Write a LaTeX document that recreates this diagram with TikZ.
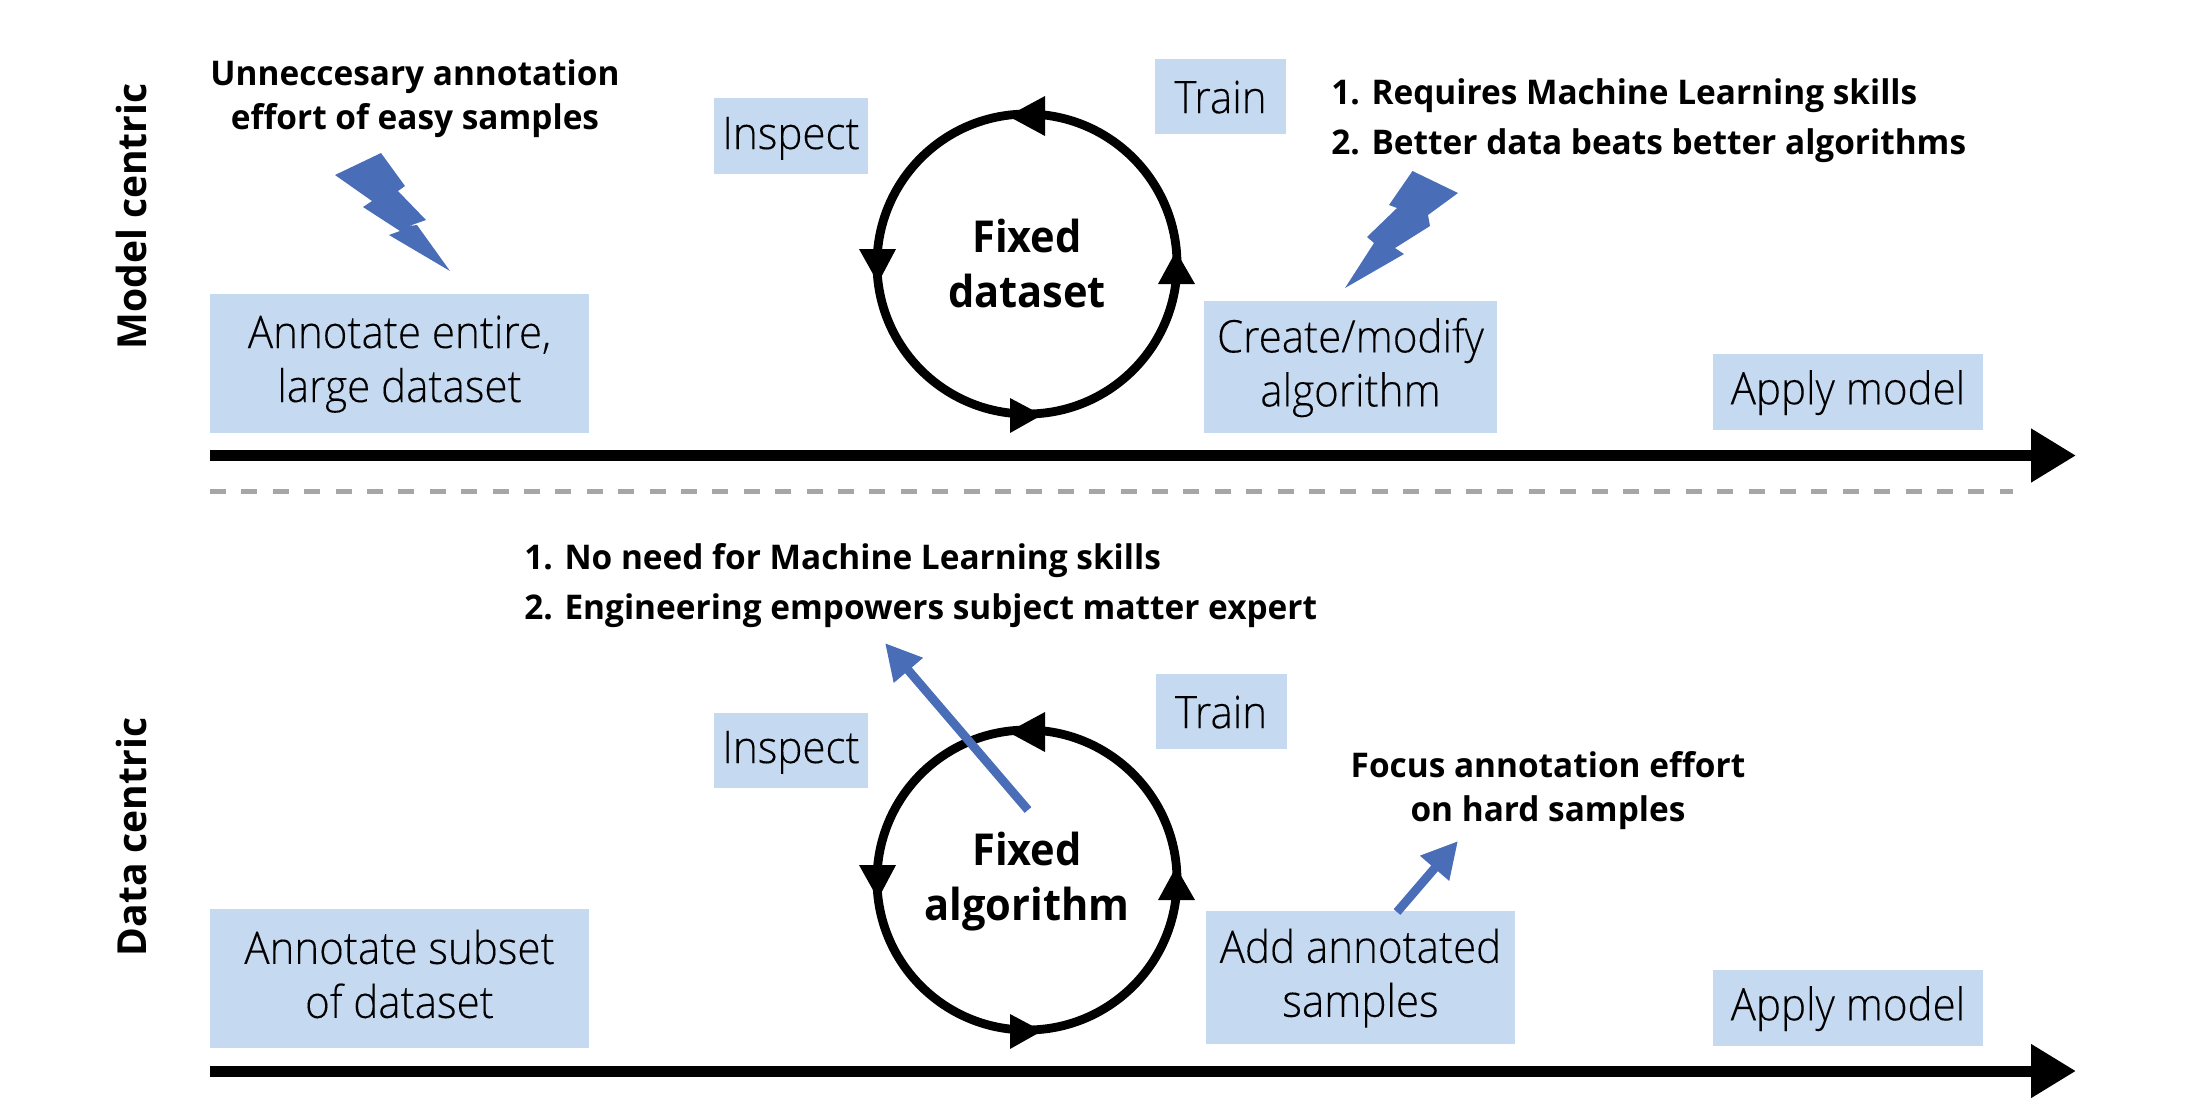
\documentclass[tikz,border=0pt]{standalone}
\usepackage{fontspec}
\setmainfont[FakeStretch=0.935,FakeBold=0.15]{Open Sans Light}
\newfontfamily\notefont[FakeStretch=0.982]{Open Sans Bold}
\newfontfamily\fixfont[FakeStretch=0.945]{Open Sans Bold}
\newfontfamily\sidefont[FakeStretch=0.975]{Open Sans Bold}
\usetikzlibrary{arrows.meta}
\definecolor{boxblue}{HTML}{C5D9F1}
\definecolor{boltblue}{HTML}{4A6DB8}
\definecolor{dashgray}{HTML}{A6A6A6}
\newsavebox\shiftbox
\newcommand\shifted[2]{\sbox\shiftbox{#2}\raisebox{#1}[\ht\shiftbox][\dp\shiftbox]{\usebox\shiftbox}}
\newcommand\lw[1]{\shifted{-0.3pt}{#1}}
\tikzset{
  boxtext/.style={inner sep=0pt,align=center,font=\fontsize{22.5}{27}\selectfont},
  bluebox/.style 2 args={fill=boxblue,draw=none,inner sep=0pt,align=center,minimum width=#1*0.5pt,minimum height=#2*0.5pt,font=\fontsize{22.5}{27}\selectfont},
  note/.style={inner sep=0pt,align=center,font=\notefont\fontsize{17}{22}\selectfont},
  listnote/.style={inner sep=0pt,align=left,font=\notefont\fontsize{17}{25}\selectfont},
  side/.style={inner sep=0pt,rotate=90,font=\sidefont\fontsize{20}{22}\selectfont},
  loopc/.style={circle,draw=black,line width=4.4pt,minimum size=150pt,inner sep=0pt,align=center,font=\fixfont\fontsize{22}{27.5}\selectfont},
  timeline/.style={line width=5.5pt,-{Triangle[length=22.5pt,width=25.5pt]}},
  bluearrow/.style={draw=boltblue,line width=4.4pt,-{Triangle[length=18pt,width=18pt,fill=boltblue]}},
}
\begin{document}
\begin{tikzpicture}[x=0.5pt,y=-0.5pt]
\useasboundingbox (0,0) rectangle (2190,1116);
% ---------- Model centric
\node[side] (mc) at (131,216.5) {Model centric};
\node[note] (n1) at (415,99) {Unneccesary annotation\\effort of easy samples};
\node[bluebox={379}{139}] (a1) at (399.5,363.5) {\lw{Annotate entire,}\\\lw{large dataset}};
\node[bluebox={154}{76}] (i1) at (791,136) {\shifted{-1.2pt}{Inspect}};
\node[bluebox={131}{75}] (t1) at (1220.5,96.5) {\lw{Train}};
\node[bluebox={293}{132}] (c1) at (1350.5,367) {\lw{Create/modify}\\\lw{algorithm}};
\node[bluebox={270}{76}] (m1) at (1848,392) {\lw{Apply model}};
\node[listnote,anchor=north west] (l1) at (1331,78.5) {1. Requires Machine Learning skills\\2. Better data beats better algorithms};
\node[loopc] (o1) at (1027,264) {\shifted{0.3pt}{Fixed}\\\shifted{0.3pt}{dataset}};
\coordinate (s1) at (210,455.5);
\coordinate (e1) at (2076,455.5);
\draw[timeline] (s1) -- (e1);
\coordinate (d1) at (210,491);
\coordinate (d2) at (2013,491);
\draw[dashgray,line width=2.5pt,dash pattern=on 8pt off 7.7pt] (d1) -- (d2);
% bolts
\fill[boltblue] (381,153)--(405,186)--(398,191)--(426,220)--(409,226)--(417,225)--(450,271)--(389,235)--(400,231)--(363,207)--(372,201)--(335,175)--cycle;
\fill[boltblue] (1412.5,171)--(1458,193)--(1428,215)--(1430,226)--(1395,248)--(1404,254)--(1345,288)--(1374,243)--(1367,237)--(1397,208)--(1389,205)--cycle;
% ---------- Data centric
\node[side] (dc) at (131,837) {Data centric};
\node[bluebox={379}{139}] (a2) at (399.5,978.5) {};
\node[boxtext] (a2t) at (399.5,974) {Annotate subset\\of dataset};
\node[bluebox={154}{75}] (i2) at (791,750) {\shifted{-1.2pt}{Inspect}};
\node[bluebox={131}{75}] (t2) at (1221,711.5) {\lw{Train}};
\node[bluebox={309}{133}] (c2) at (1360.5,977.5) {\lw{Add annotated}\\\lw{samples}};
\node[bluebox={270}{76}] (m2) at (1848,1008) {\lw{Apply model}};
\node[listnote,anchor=north west] (l2) at (524,543.5) {1. No need for Machine Learning skills\\2. Engineering empowers subject matter expert};
\node[note] (n2) at (1548,791) {Focus annotation effort\\on hard samples};
\node[loopc] (o2) at (1027,880) {\shifted{-1pt}{Fixed}\\\shifted{-1pt}{algorithm}};
\coordinate (s2) at (210,1071);
\coordinate (e2) at (2076,1071);
\draw[timeline] (s2) -- (e2);
\coordinate (b1) at (1028,810);
\coordinate (b2) at (885,643);
\draw[bluearrow] (b1) -- (b2);
\coordinate (b3) at (1397,912);
\coordinate (b4) at (1458,841);
\draw[bluearrow] (b3) -- (b4);
% ---------- loop arrowheads
\foreach \c in {o1,o2}{
  \begin{scope}[shift={(\c.center)}]
    \fill (-19,-148) -- (18,-168) -- (18,-128) -- cycle;
    \fill (149,-13) -- (168,20) -- (131,20) -- cycle;
    \fill (-149,19) -- (-168,-15) -- (-131,-15) -- cycle;
    \fill (15,151) -- (-17,134) -- (-17,169) -- cycle;
  \end{scope}
}
\end{tikzpicture}
\end{document}
